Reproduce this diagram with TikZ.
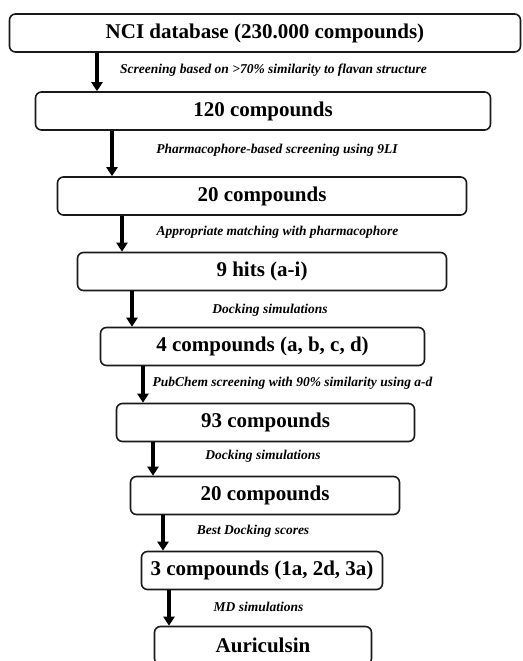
\documentclass[tikz,border=0pt]{standalone}
\usepackage{fontspec}
\setmainfont{Liberation Serif}
\usetikzlibrary{arrows.meta}

\begin{document}
\begin{tikzpicture}[x=1pt,y=-1pt,
  stage/.style={draw=black!90,line width=1.6pt,rounded corners=6pt,inner sep=0pt,
    minimum height=38pt,font=\fontsize{21}{24}\selectfont\bfseries},
  note/.style={inner sep=0pt,font=\fontsize{13.5}{15}\selectfont\bfseries\itshape},
  flow/.style={line width=4.5pt,-{Triangle[width=11pt,length=9pt]}}]
  \useasboundingbox (0,0) rectangle (522,661);
  % screening stages
  \node[stage,minimum width=511pt] (s1) at (265,33)    {NCI database (230.000 compounds)};
  \node[stage,minimum width=455pt] (s2) at (263,111)   {120 compounds};
  \node[stage,minimum width=409pt] (s3) at (262,196)   {20 compounds};
  \node[stage,minimum width=369pt] (s4) at (262,271.5) {9 hits (a-i)};
  \node[stage,minimum width=324pt] (s5) at (262.5,346.5) {4 compounds (a, b, c, d)};
  \node[stage,minimum width=298pt] (s6) at (265.5,422.5) {93 compounds};
  \node[stage,minimum width=269pt] (s7) at (265,495.5) {20 compounds};
  \node[stage,minimum width=241pt] (s8) at (262,570.5) {3 compounds (1a, 2d, 3a)};
  \node[stage,minimum width=217pt] (s9) at (263,645.5) {Auriculsin};
  % arrow positions
  \coordinate (a1) at (97,0);  \coordinate (a2) at (112,0);
  \coordinate (a3) at (122,0); \coordinate (a4) at (132,0);
  \coordinate (a5) at (143,0); \coordinate (a6) at (153,0);
  \coordinate (a7) at (163,0); \coordinate (a8) at (169,0);
  \draw[flow] (s1.south -| a1) -- (s2.north -| a1);
  \draw[flow] (s2.south -| a2) -- (s3.north -| a2);
  \draw[flow] (s3.south -| a3) -- (s4.north -| a3);
  \draw[flow] (s4.south -| a4) -- (s5.north -| a4);
  \draw[flow] (s5.south -| a5) -- (s6.north -| a5);
  \draw[flow] (s6.south -| a6) -- (s7.north -| a6);
  \draw[flow] (s7.south -| a7) -- (s8.north -| a7);
  \draw[flow] (s8.south -| a8) -- (s9.north -| a8);
  % step labels
  \node[note] (n1) at (273.5,70) {Screening based on >70\% similarity to flavan structure};
  \node[note] (n2) at (277,150)  {Pharmacophore-based screening using 9LI};
  \node[note] (n3) at (277.5,232) {Appropriate matching with pharmacophore};
  \node[note] (n4) at (270,310)  {Docking simulations};
  \node[note] (n5) at (292.5,383) {PubChem screening with 90\% similarity using a-d};
  \node[note] (n6) at (263,456)  {Docking simulations};
  \node[note] (n7) at (253,531)  {Best Docking scores};
  \node[note] (n8) at (258.5,607) {MD simulations};
\end{tikzpicture}
\end{document}
